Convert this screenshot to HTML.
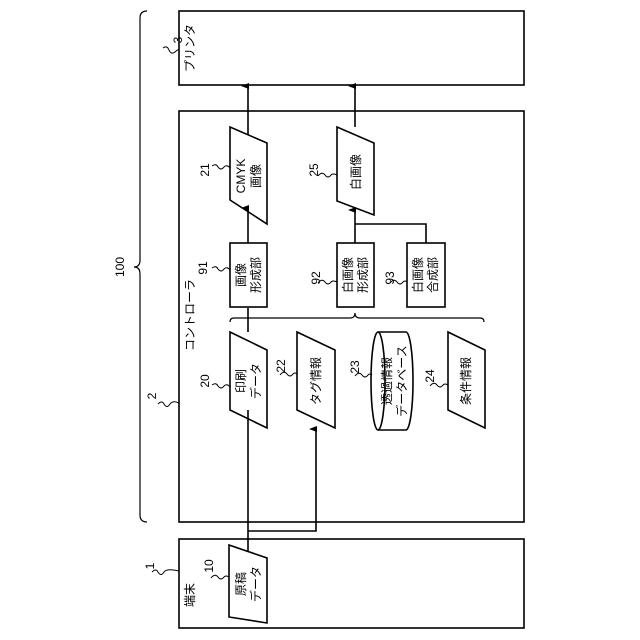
<!DOCTYPE html>
<html><head><meta charset="utf-8"><style>
html,body{margin:0;padding:0;background:#fff;}
svg{display:block;}
text{font-family:"Liberation Sans","Noto Sans CJK JP",sans-serif;font-size:12px;fill:#000;}
</style></head><body>
<svg width="640" height="640" viewBox="0 0 640 640" xmlns="http://www.w3.org/2000/svg">
<defs>
<marker id="a" markerWidth="8" markerHeight="8" refX="4" refY="7" orient="auto-start-reverse" markerUnits="userSpaceOnUse">
<path d="M1,8 L4,0 L7,8 Z" fill="#000"/>
</marker>
</defs>
<g fill="none" stroke="#000" stroke-width="1.6">
<rect x="179" y="11" width="345" height="74"/>
<rect x="179" y="111" width="345" height="411"/>
<rect x="179" y="539" width="345" height="89"/>
<!-- big brace -->
<path d="M147,11 Q140,11 140,18 L140,260 Q140,267 134,267 Q140,267 140,274 L140,515 Q140,522 147,522" stroke-width="1.2"/>
<!-- inner brace -->
<path d="M230,322 Q230,318 234,318 L350,318 Q355,318 355,313 Q355,318 360,318 L480,318 Q484,318 484,322" stroke-width="1.2"/>
<!-- shapes -->
<polygon points="230,127 267,143 267,224 230,200" fill="#fff"/>
<polygon points="337,127 374,143 374,215 337,201" fill="#fff"/>
<rect x="230" y="243" width="37" height="64" fill="#fff"/>
<rect x="337" y="243" width="37" height="64" fill="#fff"/>
<rect x="407" y="243" width="38" height="64" fill="#fff"/>
<polygon points="230,332 267,350 267,428 230,410" fill="#fff"/>
<polygon points="297,332 335,350 335,428 297,410" fill="#fff"/>
<polygon points="448,332 485,350 485,428 448,410" fill="#fff"/>
<path d="M378,332 L406,332 A7,49 0 0 1 406,430 L378,430 A7,49 0 0 1 378,332 Z" fill="#fff"/>
<path d="M378,332 A7,49 0 0 1 378,430"/>
<polygon points="229,545 267,558 267,623 229,617" fill="#fff"/>
<!-- connectors -->
<line x1="248" y1="551" x2="248" y2="410" />
<line x1="248" y1="332" x2="248" y2="308" />
<line x1="248" y1="243" x2="248" y2="208" marker-end="url(#a)"/>
<line x1="248" y1="135" x2="248" y2="86" marker-end="url(#a)"/>
<polyline points="248,531 316,531 316,429" marker-end="url(#a)"/>
<line x1="355" y1="243" x2="355" y2="210" marker-end="url(#a)"/>
<polyline points="426,243 426,224 355,224"/>
<line x1="355" y1="127" x2="355" y2="86" marker-end="url(#a)"/>
</g>
<!-- squiggles -->
<g fill="none" stroke="#000" stroke-width="1">
<path d="M163,48 q4,-3 6,2 q2,5 6,2 q3,-3 4,-2"/>
<path d="M158,404 q4,-4 6,0 q3,5 6,0 q3,-4 9,-1"/>
<path d="M152,572 q4,-4 6,0 q3,5 6,0 q3,-4 15,-1"/>
<path d="M212,166 q4,-3 6,1 q3,4 6,0 q3,-3 6,1"/>
<path d="M212,268 q4,-3 6,1 q3,4 6,0 q3,-3 6,1"/>
<path d="M318,176 q4,-5 7,-1 q3,4 6,0 q2,-2 6,0"/>
<path d="M318,283 q4,-5 7,-1 q3,4 6,0 q2,-2 6,0"/>
<path d="M390,283 q4,-5 7,-1 q3,4 6,0 q2,-2 4,0"/>
<path d="M212,385 q4,-3 6,1 q3,4 6,0 q3,-3 6,1"/>
<path d="M280,375 q4,-5 7,-1 q3,4 6,0 q2,-2 4,0"/>
<path d="M355,376 q4,-5 7,-1 q3,4 6,0 q2,-2 4,0"/>
<path d="M430,386 q4,-5 7,-1 q3,4 6,0 q2,-2 5,0"/>
<path d="M211,578 q4,-5 7,-1 q3,4 6,0 q2,-2 5,0"/>
</g>
<g text-anchor="middle" dominant-baseline="central">
<text transform="translate(178,40) rotate(-90)">3</text>
<text transform="translate(190,48) rotate(-90)">プリンタ</text>
<text transform="translate(120,267) rotate(-90)">100</text>
<text transform="translate(152,396) rotate(-90)">2</text>
<text transform="translate(190,315) rotate(-90)">コントローラ</text>
<text transform="translate(150,566) rotate(-90)">1</text>
<text transform="translate(190,595) rotate(-90)">端末</text>

<text transform="translate(205,170) rotate(-90)">21</text>
<text transform="translate(241,176) rotate(-90)">CMYK</text>
<text transform="translate(256,176) rotate(-90)">画像</text>
<text transform="translate(314,170) rotate(-90)">25</text>
<text transform="translate(356,172) rotate(-90)">白画像</text>

<text transform="translate(203,268) rotate(-90)">91</text>
<text transform="translate(241,275) rotate(-90)">画像</text>
<text transform="translate(256,275) rotate(-90)">形成部</text>
<text transform="translate(316,278) rotate(-90)">92</text>
<text transform="translate(348,275) rotate(-90)">白画像</text>
<text transform="translate(363,275) rotate(-90)">形成部</text>
<text transform="translate(390,278) rotate(-90)">93</text>
<text transform="translate(418,275) rotate(-90)">白画像</text>
<text transform="translate(433,275) rotate(-90)">合成部</text>

<text transform="translate(205,381) rotate(-90)">20</text>
<text transform="translate(241,381) rotate(-90)">印刷</text>
<text transform="translate(256,381) rotate(-90)">データ</text>
<text transform="translate(281,366) rotate(-90)">22</text>
<text transform="translate(316,381) rotate(-90)">タグ情報</text>
<text transform="translate(355,367) rotate(-90)">23</text>
<text transform="translate(387,381) rotate(-90)">透過情報</text>
<text transform="translate(402,381) rotate(-90)">データベース</text>
<text transform="translate(430,376) rotate(-90)">24</text>
<text transform="translate(466,381) rotate(-90)">条件情報</text>

<text transform="translate(209,566) rotate(-90)">10</text>
<text transform="translate(241,584) rotate(-90)">原稿</text>
<text transform="translate(256,584) rotate(-90)">データ</text>
</g>
</svg>
</body></html>
